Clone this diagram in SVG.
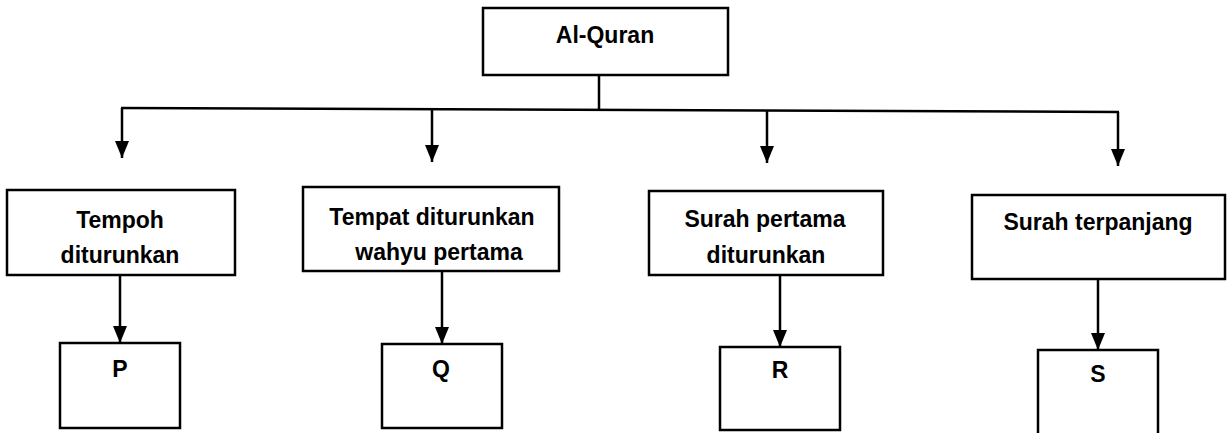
<svg xmlns="http://www.w3.org/2000/svg" width="1231" height="433" viewBox="0 0 1231 433">
<style>
.box{fill:#fff;stroke:#000;stroke-width:2.5}
.t{font-family:"Liberation Sans",Arial,sans-serif;font-weight:bold;font-size:23px;fill:#000;text-anchor:middle}
.c{stroke:#000;stroke-width:2.5;fill:none}
</style>
<defs>
<marker id="ah" viewBox="0 0 17 14" refX="17" refY="7" markerWidth="17" markerHeight="14" markerUnits="userSpaceOnUse" orient="auto">
<path d="M0,0 L17,7 L0,14 z" fill="#000"/>
</marker>
</defs>
<rect width="1231" height="433" fill="#fff"/>
<g id="connectors">
<line class="c" x1="599" y1="75" x2="599" y2="110"/>
<line class="c" x1="121" y1="108" x2="1119" y2="112"/>
<line class="c" x1="122" y1="108" x2="122" y2="158" marker-end="url(#ah)"/>
<line class="c" x1="432" y1="109" x2="432" y2="162" marker-end="url(#ah)"/>
<line class="c" x1="767" y1="111" x2="767" y2="163" marker-end="url(#ah)"/>
<line class="c" x1="1118" y1="112" x2="1118" y2="166" marker-end="url(#ah)"/>
<line class="c" x1="120" y1="275" x2="120" y2="343" marker-end="url(#ah)"/>
<line class="c" x1="442" y1="271" x2="442" y2="344" marker-end="url(#ah)"/>
<line class="c" x1="780" y1="275" x2="780" y2="347" marker-end="url(#ah)"/>
<line class="c" x1="1098" y1="279" x2="1098" y2="350" marker-end="url(#ah)"/>
</g>
<g id="alquran">
<rect class="box" x="483" y="8" width="245" height="67"/>
<text class="t" x="605" y="43">Al-Quran</text>
</g>
<g id="tempoh">
<rect class="box" x="7" y="190" width="228" height="85"/>
<text class="t" x="120" y="228">Tempoh</text>
<text class="t" x="120" y="263">diturunkan</text>
</g>
<g id="tempat">
<rect class="box" x="303" y="187" width="256" height="84"/>
<text class="t" x="432" y="225">Tempat diturunkan</text>
<text class="t" x="439" y="260">wahyu pertama</text>
</g>
<g id="surahpertama">
<rect class="box" x="649" y="191" width="234" height="84"/>
<text class="t" x="765" y="227">Surah pertama</text>
<text class="t" x="766" y="263">diturunkan</text>
</g>
<g id="surahterpanjang">
<rect class="box" x="972" y="195" width="253" height="84"/>
<text class="t" x="1098" y="230">Surah terpanjang</text>
</g>
<g id="P">
<rect class="box" x="60" y="343" width="120" height="85"/>
<text class="t" x="120" y="377">P</text>
</g>
<g id="Q">
<rect class="box" x="382" y="344" width="120" height="84"/>
<text class="t" x="441" y="377">Q</text>
</g>
<g id="R">
<rect class="box" x="720" y="347" width="120" height="83"/>
<text class="t" x="780" y="378">R</text>
</g>
<g id="S">
<rect class="box" x="1038" y="350" width="120" height="90"/>
<text class="t" x="1098" y="382">S</text>
</g>
</svg>
